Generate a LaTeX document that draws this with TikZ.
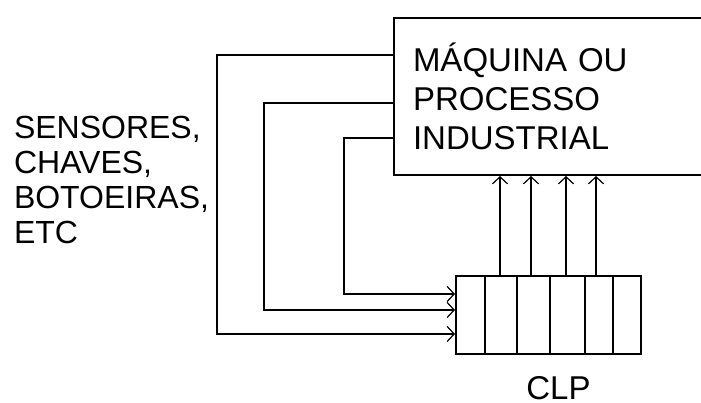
\documentclass[tikz,border=0pt]{standalone}
\usepackage{fontspec}
\setmainfont{Liberation Sans}
\usetikzlibrary{positioning,arrows.meta}
\begin{document}
\begin{tikzpicture}[x=1pt,y=-1pt,line width=2pt,>={Straight Barb[length=7pt,width=15pt,line width=1.2pt]},every node/.style={font=\fontsize{33}{39}\selectfont}]
  \useasboundingbox (0,0) rectangle (701,403);
  \clip (0,0) rectangle (701,403);
  \node[draw,anchor=north west,minimum width=320pt,minimum height=157pt,text width=282pt,inner xsep=19pt,align=left] (proc) at (393,17) {MÁQUINA OU\\PROCESSO\\INDUSTRIAL};
  \node[draw,anchor=north west,minimum width=185pt,minimum height=78pt,inner sep=0pt] (clp) at (455,275) {};
  \node[below=20pt of clp,xshift=10pt,inner sep=0pt,text depth=0pt] (clplbl) {CLP};
  \node[anchor=west,inner sep=0pt,align=left,font=\fontsize{32}{35}\selectfont] (sens) at (13,180) {SENSORES,\\CHAVES,\\BOTOEIRAS,\\ETC};
  % divisoes do CLP
  \foreach \dx in {30,62,95,130,158}
    \draw ([xshift=\dx pt]clp.north west) -- ([xshift=\dx pt]clp.south west);
  % entradas
  \draw[->] ([yshift=-38pt]proc.north west) -- ++(-176,0) |- ([yshift=-59pt]clp.north west);
  \draw[->] ([yshift=-86pt]proc.north west) -- ++(-129,0) |- ([yshift=-35pt]clp.north west);
  \draw[->] ([yshift=-121pt]proc.north west) -- ++(-49,0) |- ([yshift=-19pt]clp.north west);
  % saidas
  \foreach \dx in {45,76,111,141}
    \draw[->] ([xshift=\dx pt]clp.north west) -- ([xshift=\dx pt]clp.north west |- proc.south);
\end{tikzpicture}
\end{document}
